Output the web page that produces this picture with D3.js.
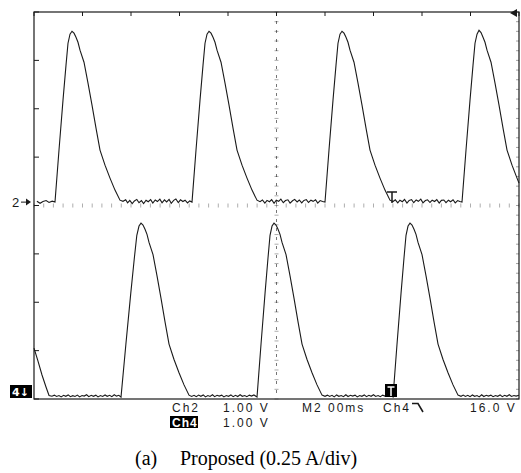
<!DOCTYPE html>
<html>
<head>
<meta charset="utf-8">
<script src="https://cdn.jsdelivr.net/npm/d3@7"></script>
<style>
  html, body { margin: 0; padding: 0; background: #fff; }
  svg { display: block; }
</style>
</head>
<body>
<svg id="chart" width="521" height="473"></svg>
<script>
// ---------- data (time in ms, current in A) ----------
const timeDomain = [0, 20];          // 10 div x 2.00 ms
const divDomain = [-4, 4];           // 8 vertical divisions
const ampsPerDiv = 0.25;
const ch2GroundDiv = 0.07;
const ch4GroundDiv = -3.96;

const ch2Samples = [
  [0.12,0.004],[0.25,-0.006],[0.37,0.003],[0.5,0.008],[0.62,-0.002],[0.75,0.005],
  [0.866,0],[1.031,0.269],[1.196,0.527],[1.32,0.708],[1.402,0.821],[1.485,0.868],[1.567,0.883],[1.65,0.873],[1.732,0.852],[1.814,0.826],[1.897,0.785],[2.062,0.723],[2.227,0.615],[2.392,0.501],[2.557,0.382],[2.722,0.269],[2.928,0.191],[3.134,0.124],[3.34,0.062],[3.546,0.010],[3.67,0.004],
  [3.78,0.012],[3.86,-0.004],[3.95,0.009],[4.05,-0.008],[4.14,0.006],[4.24,0.014],[4.33,-0.003],[4.43,0.008],[4.52,-0.007],[4.62,0.010],[4.71,0.002],[4.81,0.013],[4.9,-0.005],[5.0,0.011],[5.09,0.003],[5.19,0.015],[5.28,-0.004],[5.38,0.012],[5.47,0.001],[5.57,0.014],[5.66,-0.006],[5.76,0.009],[5.85,0.016],[5.95,-0.002],[6.04,0.012],[6.14,0.003],[6.23,0.010],[6.33,-0.004],[6.42,0.006],
  [6.516,0],[6.681,0.269],[6.846,0.527],[6.97,0.708],[7.052,0.821],[7.135,0.868],[7.217,0.883],[7.3,0.873],[7.382,0.852],[7.464,0.826],[7.547,0.785],[7.712,0.723],[7.877,0.615],[8.042,0.501],[8.207,0.382],[8.372,0.269],[8.578,0.191],[8.784,0.124],[8.99,0.062],[9.196,0.010],[9.32,0.002],
  [9.42,0.011],[9.52,-0.005],[9.61,0.009],[9.71,0.002],[9.8,0.013],[9.9,-0.006],[9.99,0.010],[10.09,0.004],[10.18,0.015],[10.28,-0.003],[10.37,0.008],[10.47,0.012],[10.56,-0.005],[10.66,0.007],[10.75,0.014],[10.85,0.001],[10.94,0.011],[11.04,-0.004],[11.13,0.009],[11.23,0.013],[11.32,-0.002],[11.42,0.010],[11.51,0.004],[11.61,0.012],[11.7,-0.005],[11.8,0.008],[11.9,0.003],
  [12.0,0],[12.165,0.269],[12.33,0.527],[12.454,0.708],[12.536,0.821],[12.619,0.868],[12.701,0.883],[12.784,0.873],[12.866,0.852],[12.948,0.826],[13.031,0.785],[13.196,0.723],[13.361,0.615],[13.526,0.501],[13.691,0.382],[13.856,0.269],[14.062,0.191],[14.268,0.124],[14.474,0.062],[14.68,0.010],[14.804,0.003],
  [14.9,0.012],[15.0,-0.004],[15.09,0.010],[15.19,0.002],[15.28,0.014],[15.38,-0.005],[15.47,0.009],[15.57,0.013],[15.66,-0.003],[15.76,0.011],[15.85,0.004],[15.95,0.015],[16.04,-0.004],[16.14,0.008],[16.23,0.012],[16.33,-0.002],[16.42,0.010],[16.52,0.003],[16.61,0.013],[16.71,-0.005],[16.8,0.009],[16.9,0.011],[16.99,-0.003],[17.09,0.010],[17.18,0.002],[17.28,0.012],[17.37,-0.004],[17.47,0.008],[17.56,0.003],
  [17.65,0],[17.815,0.269],[17.98,0.527],[18.104,0.708],[18.186,0.821],[18.269,0.868],[18.351,0.888],[18.434,0.876],[18.516,0.852],[18.598,0.826],[18.681,0.785],[18.846,0.723],[19.011,0.615],[19.176,0.501],[19.341,0.382],[19.506,0.269],[19.712,0.191],[19.918,0.124],[20.0,0.098]
];

const ch4Samples = [
  [0,0.253],[0.165,0.186],[0.33,0.114],[0.495,0.052],[0.62,0.008],[0.74,0.004],
  [0.84,0.010],[0.93,0.003],[1.03,0.008],[1.12,0.001],[1.22,0.009],[1.31,0.004],[1.41,0.011],[1.5,0.002],[1.6,0.007],[1.69,0.003],[1.79,0.010],[1.88,0.001],[1.98,0.008],[2.07,0.005],[2.17,0.012],[2.26,0.002],[2.36,0.009],[2.45,0.004],[2.55,0.010],[2.64,0.001],[2.74,0.008],[2.83,0.003],[2.93,0.011],[3.02,0.004],[3.12,0.009],[3.21,0.002],[3.31,0.012],[3.4,0.005],[3.5,0.009],
  [3.588,0],[3.79,0.274],[3.99,0.536],[4.14,0.721],[4.24,0.836],[4.33,0.884],[4.413,0.899],[4.495,0.889],[4.578,0.867],[4.66,0.841],[4.743,0.799],[4.908,0.736],[5.073,0.626],[5.238,0.51],[5.403,0.389],[5.568,0.274],[5.774,0.194],[5.98,0.126],[6.186,0.063],[6.392,0.010],[6.5,0.003],
  [6.6,0.009],[6.69,0.002],[6.79,0.010],[6.88,0.004],[6.98,0.011],[7.07,0.001],[7.17,0.008],[7.26,0.003],[7.36,0.012],[7.45,0.002],[7.55,0.009],[7.64,0.005],[7.74,0.010],[7.83,0.001],[7.93,0.008],[8.02,0.004],[8.12,0.011],[8.21,0.002],[8.31,0.009],[8.4,0.003],[8.5,0.012],[8.59,0.004],[8.69,0.008],[8.78,0.002],[8.88,0.010],[8.97,0.005],[9.07,0.011],[9.15,0.004],
  [9.197,0],[9.362,0.274],[9.527,0.536],[9.651,0.721],[9.733,0.836],[9.816,0.884],[9.898,0.899],[9.981,0.889],[10.063,0.867],[10.145,0.841],[10.228,0.799],[10.393,0.736],[10.558,0.626],[10.723,0.51],[10.888,0.389],[11.053,0.274],[11.259,0.194],[11.465,0.126],[11.671,0.063],[11.877,0.010],[12.0,0.004],
  [12.1,0.010],[12.19,0.003],[12.29,0.009],[12.38,0.001],[12.48,0.011],[12.57,0.004],[12.67,0.008],[12.76,0.002],[12.86,0.012],[12.95,0.003],[13.05,0.009],[13.14,0.005],[13.24,0.010],[13.33,0.001],[13.43,0.008],[13.52,0.004],[13.62,0.011],[13.71,0.002],[13.81,0.009],[13.9,0.004],[14.0,0.012],[14.09,0.003],[14.19,0.008],[14.28,0.002],[14.38,0.010],[14.47,0.005],[14.57,0.009],[14.66,0.003],[14.76,0.006],
  [14.805,0],[14.97,0.274],[15.135,0.536],[15.259,0.721],[15.341,0.836],[15.424,0.884],[15.506,0.899],[15.589,0.889],[15.671,0.867],[15.753,0.841],[15.836,0.799],[16.001,0.736],[16.166,0.626],[16.331,0.51],[16.496,0.389],[16.661,0.274],[16.867,0.194],[17.073,0.126],[17.279,0.063],[17.485,0.010],[17.609,0.004],
  [17.7,0.010],[17.79,0.003],[17.89,0.009],[17.98,0.002],[18.08,0.011],[18.17,0.004],[18.27,0.008],[18.36,0.001],[18.46,0.012],[18.55,0.003],[18.65,0.009],[18.74,0.005],[18.84,0.010],[18.93,0.002],[19.03,0.008],[19.12,0.004],[19.22,0.011],[19.31,0.002],[19.41,0.009],[19.5,0.004],[19.6,0.012],[19.69,0.003],[19.79,0.008],[19.88,0.005],[20.0,0.009]
];

const readoutRow1 = ["Ch2", "1.00 V", "M2 00ms", "Ch4", "16.0 V"];
const readoutRow2 = ["Ch4", "1.00 V"];
const captionLabel = "(a)";
const captionText = "Proposed (0.25 A/div)";

// ---------- layout ----------
const svg = d3.select("#chart");
const plot = { left: 34, right: 519, top: 12, bottom: 399 };
const x = d3.scaleLinear().domain(timeDomain).range([plot.left, plot.right]);
const y = d3.scaleLinear().domain(divDomain).range([plot.bottom, plot.top]);
const ink = "#1a1a1a";

// graticule: center cross with minor ticks
const g = svg.append("g");
g.append("line")
  .attr("x1", x(10)).attr("x2", x(10)).attr("y1", plot.top).attr("y2", plot.bottom)
  .attr("stroke", ink).attr("stroke-width", 1).attr("stroke-dasharray", "3,6").attr("opacity", 0.6);

const minorV = d3.range(-4, 4.001, 0.2);
g.selectAll(".vt").data(minorV).join("line")
  .attr("x1", x(10) - 2).attr("x2", x(10) + 2)
  .attr("y1", d => y(d)).attr("y2", d => y(d))
  .attr("stroke", ink).attr("stroke-width", 1).attr("opacity", 0.35);

const minorH = d3.range(0, 20.001, 0.4);
g.selectAll(".ht").data(minorH).join("line")
  .attr("x1", d => x(d)).attr("x2", d => x(d))
  .attr("y1", y(0) - 2).attr("y2", y(0) + 2)
  .attr("stroke", ink).attr("stroke-width", 1).attr("opacity", 0.35);

// frame
g.append("rect")
  .attr("x", plot.left).attr("y", plot.top)
  .attr("width", plot.right - plot.left).attr("height", plot.bottom - plot.top)
  .attr("fill", "none").attr("stroke", ink).attr("stroke-width", 1.2);

// border ticks at divisions
const majorV = d3.range(-4, 4.001, 1);
g.selectAll(".lt").data(majorV).join("line")
  .attr("x1", plot.left).attr("x2", plot.left + 5)
  .attr("y1", d => y(d)).attr("y2", d => y(d))
  .attr("stroke", ink).attr("stroke-width", 1);
g.selectAll(".rt").data(minorV).join("line")
  .attr("x1", plot.right - 3).attr("x2", plot.right)
  .attr("y1", d => y(d)).attr("y2", d => y(d))
  .attr("stroke", ink).attr("stroke-width", 1).attr("opacity", 0.4);
const majorH = d3.range(0, 20.001, 2);
g.selectAll(".tt").data(majorH).join("line")
  .attr("x1", d => x(d)).attr("x2", d => x(d))
  .attr("y1", plot.top).attr("y2", plot.top + 4)
  .attr("stroke", ink).attr("stroke-width", 1);

// traces
const line = (ground) => d3.line()
  .x(d => x(d[0]))
  .y(d => y(d[1] / ampsPerDiv + ground));

svg.append("path").datum(ch2Samples)
  .attr("d", line(ch2GroundDiv))
  .attr("fill", "none").attr("stroke", ink).attr("stroke-width", 1.1);
svg.append("path").datum(ch4Samples)
  .attr("d", line(ch4GroundDiv))
  .attr("fill", "none").attr("stroke", ink).attr("stroke-width", 1.1);

// ground markers
const y2 = y(ch2GroundDiv);
svg.append("text").attr("x", 12).attr("y", y2 + 5)
  .attr("font-family", "Liberation Sans, Arial, sans-serif").attr("font-size", 13)
  .attr("fill", ink).text("2");
svg.append("line").attr("x1", 21).attr("x2", 26).attr("y1", y2).attr("y2", y2)
  .attr("stroke", ink).attr("stroke-width", 1);
svg.append("path").attr("d", `M26,${y2 - 3.5}L31,${y2}L26,${y2 + 3.5}Z`).attr("fill", ink);

svg.append("rect").attr("x", 10).attr("y", 385).attr("width", 22).attr("height", 13).attr("fill", "#000");
svg.append("text").attr("x", 12).attr("y", 396)
  .attr("font-family", "DejaVu Sans, sans-serif").attr("font-size", 11).attr("font-weight", "bold")
  .attr("fill", "#fff").text("4↓");

// trigger markers
const trigX = 392;
svg.append("path").attr("d", `M${trigX - 5},192H${trigX + 5}M${trigX},192V203`)
  .attr("stroke", ink).attr("stroke-width", 1.5).attr("fill", "none");
svg.append("rect").attr("x", 385).attr("y", 384).attr("width", 12).attr("height", 13).attr("fill", "#000");
svg.append("path").attr("d", `M387.5,387H394.5M391,387V396`)
  .attr("stroke", "#fff").attr("stroke-width", 1.5);

// trigger level marker top right
svg.append("path").attr("d", "M510,13L517,9V17Z").attr("fill", ink);

// readouts
const font = "Liberation Sans, Arial, sans-serif";
const row1X = [172, 223, 302, 383, 470];
svg.selectAll(".r1").data(readoutRow1).join("text")
  .attr("x", (d, i) => row1X[i]).attr("y", 412)
  .attr("font-family", font).attr("font-size", 12).attr("letter-spacing", 2)
  .attr("fill", ink).text(d => d);
// falling edge symbol
svg.append("path").attr("d", "M412,403.5H418L423,412")
  .attr("stroke", ink).attr("stroke-width", 1.6).attr("fill", "none");

svg.append("rect").attr("x", 170).attr("y", 416).attr("width", 28).attr("height", 12).attr("fill", "#000");
const row2X = [172, 223];
svg.selectAll(".r2").data(readoutRow2).join("text")
  .attr("x", (d, i) => row2X[i]).attr("y", 427)
  .attr("font-family", font).attr("font-size", 12).attr("letter-spacing", (d, i) => i === 0 ? 1 : 2)
  .attr("font-weight", (d, i) => i === 0 ? "bold" : "normal")
  .attr("fill", (d, i) => i === 0 ? "#fff" : ink).text(d => d);

// caption
svg.append("text").attr("x", 135).attr("y", 465)
  .attr("font-family", "Liberation Serif, Times New Roman, serif").attr("font-size", 20)
  .attr("fill", "#000").text(captionLabel);
svg.append("text").attr("x", 180).attr("y", 465)
  .attr("font-family", "Liberation Serif, Times New Roman, serif").attr("font-size", 20)
  .attr("fill", "#000").text(captionText);
</script>
</body>
</html>
